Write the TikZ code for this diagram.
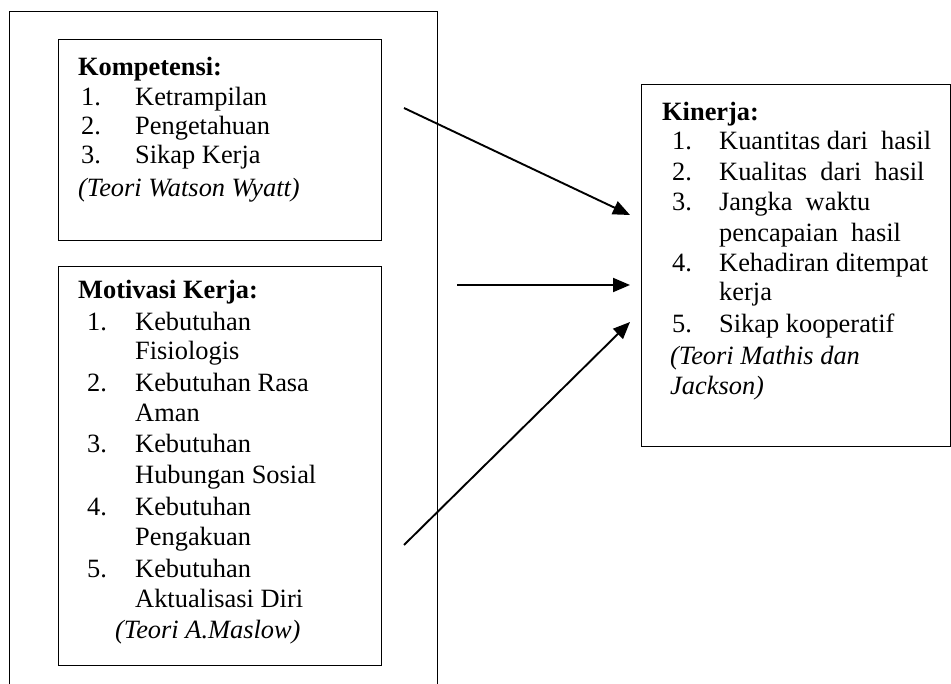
\documentclass[tikz,border=0pt]{standalone}
\usepackage{fontspec}
\setmainfont{Liberation Serif}
\usetikzlibrary{arrows.meta}
\begin{document}
\begin{tikzpicture}[x=1pt,y=-1pt,
  frame/.style={line width=0.9pt},
  boxframe/.style={draw, line width=0.9pt, inner sep=0pt, anchor=north west},
  txt/.style={anchor=base west, inner sep=0pt, font=\fontsize{26.4}{30}\selectfont},
  conn/.style={line width=1.9pt, -{Triangle[length=17pt,width=14pt]}}]
\useasboundingbox (0,0) rectangle (951,684);
% outer frame (open at the bottom)
\draw[frame] (9,684) -- (9,11) -- (437,11) -- (437,684);
% boxes
\node[boxframe, minimum width=323pt, minimum height=201pt] (kom) at (58,39) {};
\node[boxframe, minimum width=323pt, minimum height=399pt] (mot) at (58,266) {};
\node[boxframe, minimum width=309pt, minimum height=362pt] (kin) at (641,84) {};
% Kompetensi
\node[txt] (k0) at (78,76) {\textbf{Kompetensi:}};
\node[txt] (k1n) at (81,106) {1.};  \node[txt] (k1) at (135,106) {Ketrampilan};
\node[txt] (k2n) at (81,135) {2.};  \node[txt] (k2) at (135,135) {Pengetahuan};
\node[txt] (k3n) at (81,164) {3.};  \node[txt] (k3) at (135,164) {Sikap Kerja};
\node[txt] (k4) at (78,197) {\textit{(Teori Watson Wyatt)}};
% Motivasi
\node[txt] (m0) at (78,299) {\textbf{Motivasi Kerja:}};
\node[txt] (m1n) at (87,331) {1.};  \node[txt] (m1) at (135,331) {Kebutuhan};
\node[txt] (m1b) at (135,360) {Fisiologis};
\node[txt] (m2n) at (87,392) {2.};  \node[txt] (m2) at (135,392) {Kebutuhan Rasa};
\node[txt] (m2b) at (135,422) {Aman};
\node[txt] (m3n) at (87,453) {3.};  \node[txt] (m3) at (135,453) {Kebutuhan};
\node[txt] (m3b) at (135,484) {Hubungan Sosial};
\node[txt] (m4n) at (87,515) {4.};  \node[txt] (m4) at (135,515) {Kebutuhan};
\node[txt] (m4b) at (135,545) {Pengakuan};
\node[txt] (m5n) at (87,577) {5.};  \node[txt] (m5) at (135,577) {Kebutuhan};
\node[txt] (m5b) at (135,607) {Aktualisasi Diri};
\node[txt] (m6) at (115,638) {\textit{(Teori A.Maslow)}};
% Kinerja
\node[txt] (n0) at (662,121) {\textbf{Kinerja:}};
\node[txt] (n1n) at (672,150) {1.};  \node[txt] (n1) at (719,150) {Kuantitas dari\ \ hasil};
\node[txt] (n2n) at (672,181) {2.};  \node[txt] (n2) at (719,181) {Kualitas\ \ dari\ \ hasil};
\node[txt] (n3n) at (672,211) {3.};  \node[txt] (n3) at (719,211) {Jangka\ \ waktu};
\node[txt] (n3b) at (719,242) {pencapaian\ \ hasil};
\node[txt] (n4n) at (672,272) {4.};  \node[txt] (n4) at (719,272) {Kehadiran ditempat};
\node[txt] (n4b) at (719,301) {kerja};
\node[txt] (n5n) at (672,333) {5.};  \node[txt] (n5) at (719,333) {Sikap kooperatif};
\node[txt] (n6) at (670,365) {\textit{(Teori Mathis dan}};
\node[txt] (n6b) at (670,395) {\textit{Jackson)}};
% connectors
\coordinate (a1s) at (404,108);
\coordinate (a1e) at (630,215);
\coordinate (a2s) at (457,285);
\coordinate (a2e) at (630,285);
\coordinate (a3s) at (404,545);
\coordinate (a3e) at (630,322);
\draw[conn] (a1s) -- (a1e);
\draw[conn] (a2s) -- (a2e);
\draw[conn] (a3s) -- (a3e);
\end{tikzpicture}
\end{document}
